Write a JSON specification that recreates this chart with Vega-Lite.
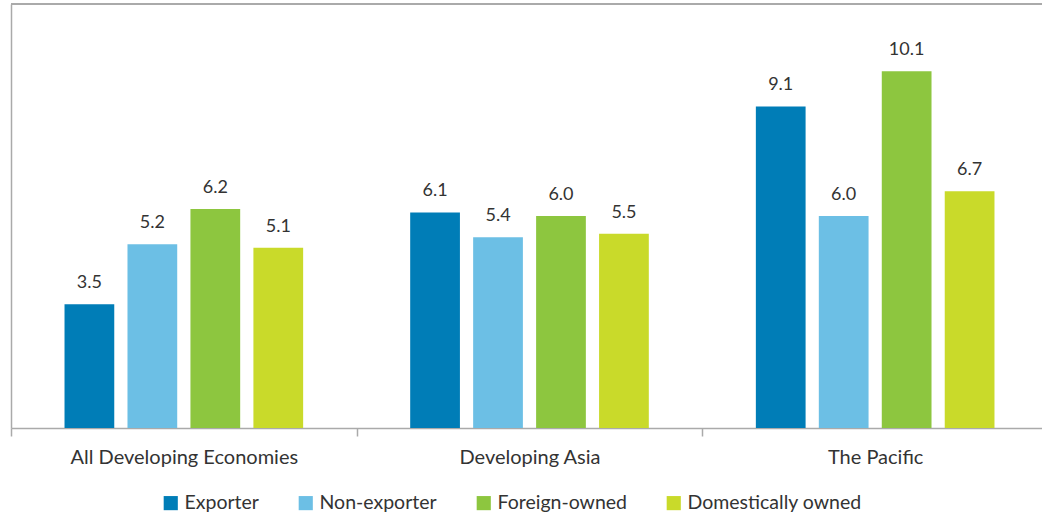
{
  "$schema": "https://vega.github.io/schema/vega-lite/v6.json",
  "width": 1037,
  "height": 424,
  "autosize": {"type": "none"},
  "padding": {"left": 11, "top": 4, "right": 0, "bottom": 88},
  "background": "white",
  "config": {
    "view": {"stroke": null},
    "font": "Lato",
    "axis": {"labelFont": "Lato", "labelFontSize": 20, "labelColor": "#333333", "labelLimit": 400},
    "legend": {"labelFont": "Lato", "labelFontSize": 19.5, "labelColor": "#333333", "labelLimit": 400}
  },
  "data": {
    "values": [
      {"group": "All Developing Economies", "cat": "Exporter", "value": 3.5},
      {"group": "All Developing Economies", "cat": "Non-exporter", "value": 5.2},
      {"group": "All Developing Economies", "cat": "Foreign-owned", "value": 6.2},
      {"group": "All Developing Economies", "cat": "Domestically owned", "value": 5.1},
      {"group": "Developing Asia", "cat": "Exporter", "value": 6.1},
      {"group": "Developing Asia", "cat": "Non-exporter", "value": 5.4},
      {"group": "Developing Asia", "cat": "Foreign-owned", "value": 6.0},
      {"group": "Developing Asia", "cat": "Domestically owned", "value": 5.5},
      {"group": "The Pacific", "cat": "Exporter", "value": 9.1},
      {"group": "The Pacific", "cat": "Non-exporter", "value": 6.0},
      {"group": "The Pacific", "cat": "Foreign-owned", "value": 10.1},
      {"group": "The Pacific", "cat": "Domestically owned", "value": 6.7}
    ]
  },
  "encoding": {
    "x": {
      "field": "group",
      "type": "nominal",
      "sort": ["All Developing Economies", "Developing Asia", "The Pacific"],
      "scale": {"paddingInner": 0, "paddingOuter": 0},
      "axis": {
        "title": null,
        "labelAngle": 0,
        "tickBand": "extent",
        "tickSize": 8,
        "tickColor": "#aaaaaa",
        "tickWidth": 1.5,
        "domainColor": "#aaaaaa",
        "domainWidth": 1.5,
        "labelPadding": 11
      }
    },
    "xOffset": {
      "field": "cat",
      "type": "nominal",
      "sort": ["Exporter", "Non-exporter", "Foreign-owned", "Domestically owned"],
      "scale": {"paddingInner": 0.21, "paddingOuter": 0.85}
    },
    "y": {
      "field": "value",
      "type": "quantitative",
      "scale": {"domain": [0, 12], "nice": false},
      "axis": {
        "title": null,
        "labels": false,
        "ticks": false,
        "grid": false,
        "domain": true,
        "domainColor": "#aaaaaa",
        "domainWidth": 1.5
      }
    }
  },
  "layer": [
    {
      "mark": {"type": "bar"},
      "encoding": {
        "color": {
          "field": "cat",
          "type": "nominal",
          "sort": ["Exporter", "Non-exporter", "Foreign-owned", "Domestically owned"],
          "scale": {
            "domain": ["Exporter", "Non-exporter", "Foreign-owned", "Domestically owned"],
            "range": ["#007DB7", "#6CBFE5", "#8DC63F", "#C9DA2A"]
          },
          "legend": {
            "title": null,
            "orient": "none",
            "legendX": 150,
            "legendY": 489,
            "direction": "horizontal",
            "symbolType": "square",
            "symbolSize": 200,
            "symbolStrokeWidth": 0,
            "columnPadding": 37,
            "labelOffset": 4
          }
        }
      }
    },
    {
      "mark": {"type": "text", "baseline": "bottom", "dy": -12, "fontSize": 18, "color": "#333333", "font": "Lato"},
      "encoding": {
        "text": {"field": "value", "type": "quantitative", "format": ".1f"}
      }
    },
    {
      "mark": {"type": "rule", "color": "#aaaaaa", "strokeWidth": 1.5},
      "encoding": {
        "x": null,
        "xOffset": null,
        "y": {"datum": 12, "type": "quantitative"}
      }
    }
  ]
}
